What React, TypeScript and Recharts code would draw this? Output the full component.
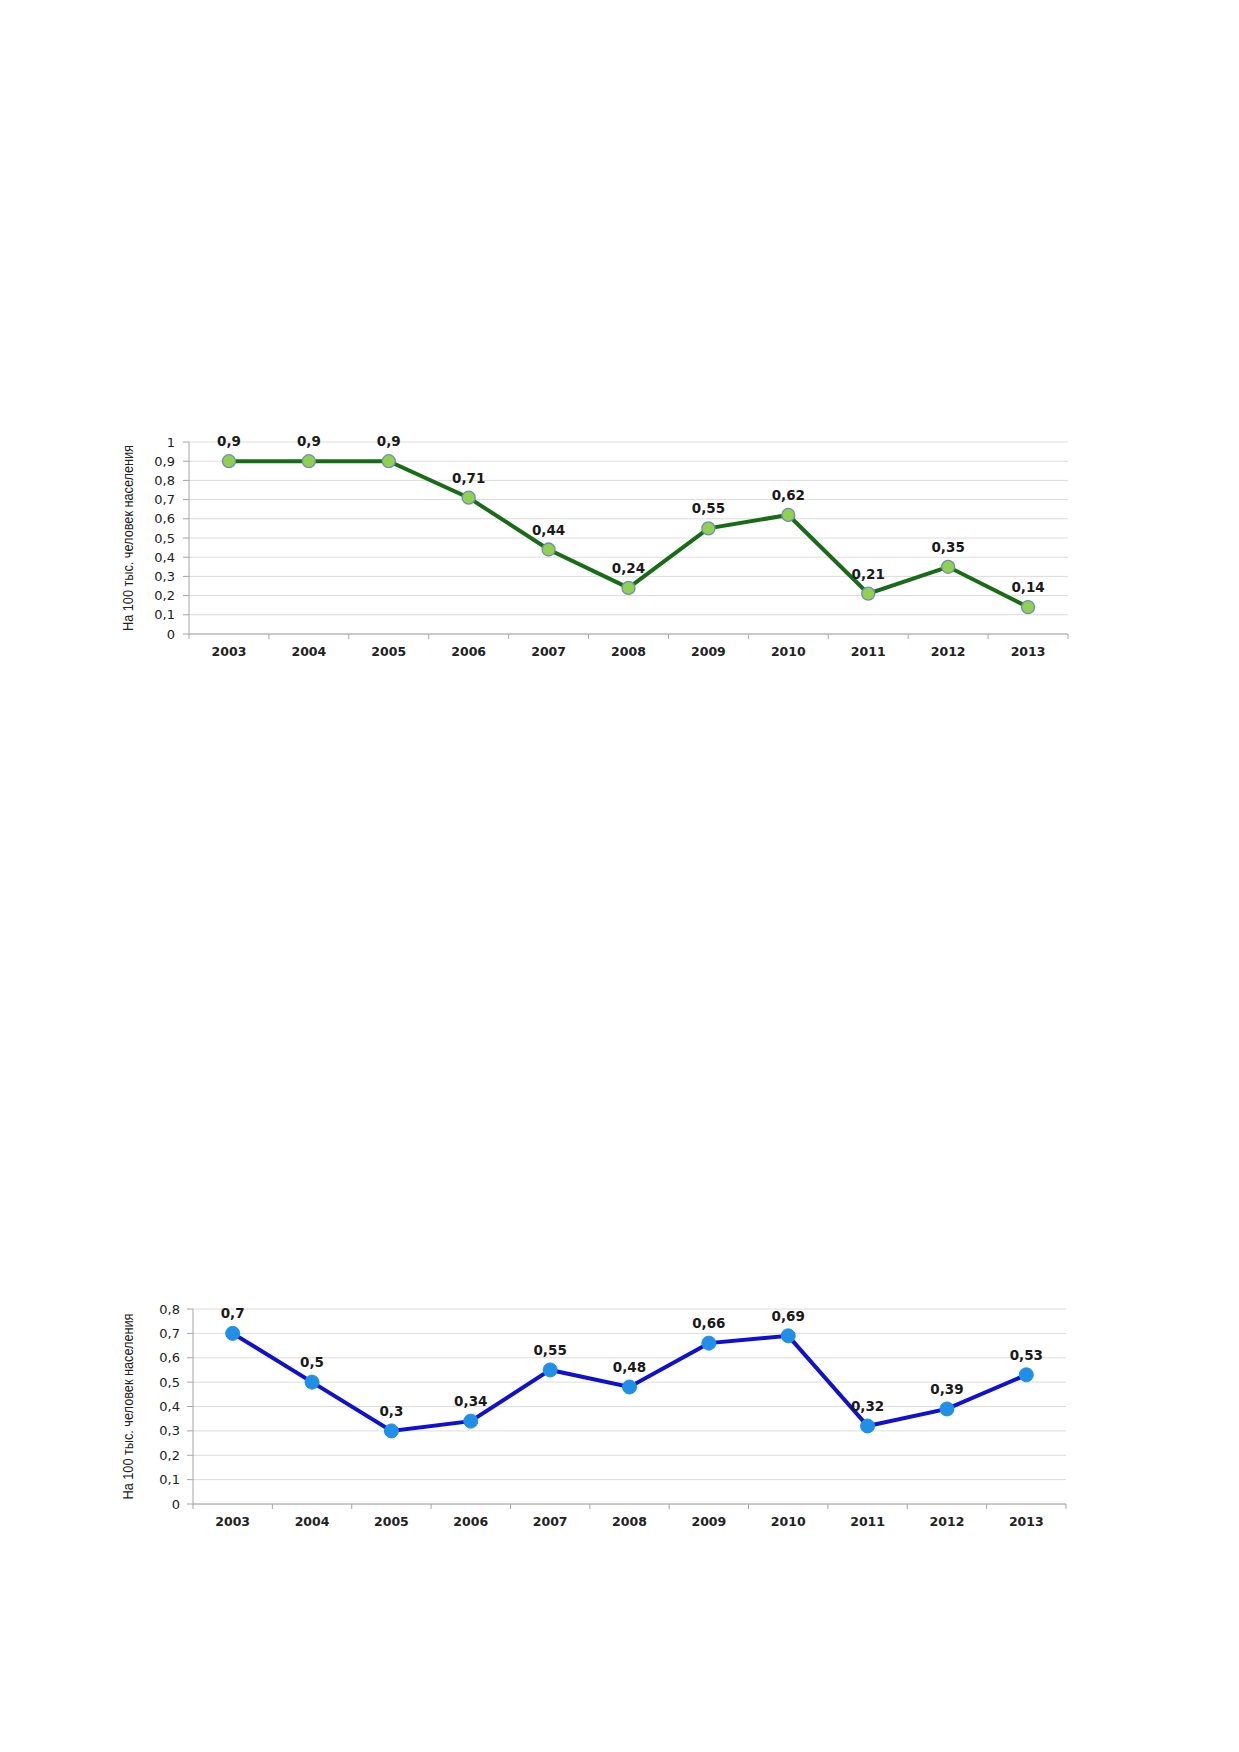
import React from 'react';
import { LineChart, Line, XAxis, YAxis, CartesianGrid, LabelList } from 'recharts';

const YEARS = ['2003', '2004', '2005', '2006', '2007', '2008', '2009', '2010', '2011', '2012', '2013'];
const RATE_TOP = [0.9, 0.9, 0.9, 0.71, 0.44, 0.24, 0.55, 0.62, 0.21, 0.35, 0.14];
const RATE_BOTTOM = [0.7, 0.5, 0.3, 0.34, 0.55, 0.48, 0.66, 0.69, 0.32, 0.39, 0.53];
const TICKS_TOP = [0, 0.1, 0.2, 0.3, 0.4, 0.5, 0.6, 0.7, 0.8, 0.9, 1];
const TICKS_BOTTOM = [0, 0.1, 0.2, 0.3, 0.4, 0.5, 0.6, 0.7, 0.8];
const Y_TITLE = 'На 100 тыс. человек населения';

const FONT = '"DejaVu Sans", Verdana, sans-serif';
const AXIS_GREY = '#a6a6a6';

const comma = (v: number) => String(Number(v.toFixed(2))).replace('.', ',');

// year label + the small tick marks that sit between categories
function YearTick(props: any) {
  const { x, y, payload, index, bandWidth, last } = props;
  const left = x - bandWidth / 2;
  return (
    <g>
      <line x1={left} y1={y} x2={left} y2={y + 5} stroke={AXIS_GREY} />
      {index === last && (
        <line x1={x + bandWidth / 2} y1={y} x2={x + bandWidth / 2} y2={y + 5} stroke={AXIS_GREY} />
      )}
      <text x={x} y={y + 18} dy="0.355em" textAnchor="middle" fontFamily={FONT} fontWeight="bold" fontSize={12.5} fill="#222">
        {payload.value}
      </text>
    </g>
  );
}

function YTitle({ viewBox }: any) {
  const cy = viewBox.y + viewBox.height / 2;
  return (
    <text
      x={128}
      y={cy}
      transform={`rotate(-90, 128, ${cy})`}
      textAnchor="middle"
      dominantBaseline="central"
      fontFamily='"Liberation Sans", Arial, sans-serif'
      fontSize={14}
      textLength={186}
      lengthAdjust="spacingAndGlyphs"
      fill="#222"
    >
      {Y_TITLE}
    </text>
  );
}

interface PanelProps {
  top: number;
  height: number;
  values: number[];
  ticks: number[];
  margin: { top: number; right: number; bottom: number; left: number };
  tickGap: number;
  stroke: string;
  dot: any;
}

const WIDTH = 1100;
const Y_AXIS_W = 60;
const X_AXIS_H = 30;

function Panel({ top, height, values, ticks, margin, tickGap, stroke, dot }: PanelProps) {
  const data = YEARS.map((year, i) => ({ year, value: values[i] }));
  const bandWidth = (WIDTH - margin.left - margin.right - Y_AXIS_W) / YEARS.length;
  return (
    <div style={{ position: 'absolute', left: 0, top }}>
      <LineChart width={WIDTH} height={height} data={data} margin={margin}>
        <CartesianGrid vertical={false} stroke="#dcdcdc" />
        <XAxis
          dataKey="year"
          height={X_AXIS_H}
          stroke={AXIS_GREY}
          padding={{ left: bandWidth / 2, right: bandWidth / 2 }}
          tickLine={false}
          tickSize={0}
          tickMargin={0}
          interval={0}
          tick={<YearTick bandWidth={bandWidth} last={YEARS.length - 1} />}
        />
        <YAxis
          width={Y_AXIS_W}
          domain={[ticks[0], ticks[ticks.length - 1]]}
          ticks={ticks}
          interval={0}
          tickFormatter={comma}
          stroke={AXIS_GREY}
          tickSize={6}
          tickMargin={tickGap}
          tick={{ fontFamily: FONT, fontSize: 13, fill: '#222' }}
          label={{ content: <YTitle /> }}
        />
        <Line
          dataKey="value"
          stroke={stroke}
          strokeWidth={4}
          dot={dot}
          activeDot={false}
          isAnimationActive={false}
        >
          <LabelList
            dataKey="value"
            position="top"
            offset={15}
            formatter={comma}
            style={{ fontFamily: FONT, fontWeight: 'bold', fontSize: 13.5, fill: '#1a1a1a' }}
          />
        </Line>
      </LineChart>
    </div>
  );
}

export default function App() {
  return (
    <div style={{ width: 1200, height: 1740 }}>
      <Panel
        top={400}
        height={280}
        values={RATE_TOP}
        ticks={TICKS_TOP}
        margin={{ top: 42, right: 32, bottom: 16, left: 129 }}
        tickGap={8}
        stroke="#186c16"
        dot={{ r: 6.5, fill: '#92d050', stroke: '#6d8fb3', strokeWidth: 1.3 }}
      />
      <Panel
        top={1280}
        height={270}
        values={RATE_BOTTOM}
        ticks={TICKS_BOTTOM}
        margin={{ top: 29, right: 34, bottom: 16, left: 133 }}
        tickGap={7}
        stroke="#1010d2"
        dot={{ r: 7, fill: '#1f8fe8', stroke: '#1f8fe8', strokeWidth: 1 }}
      />
    </div>
  );
}
